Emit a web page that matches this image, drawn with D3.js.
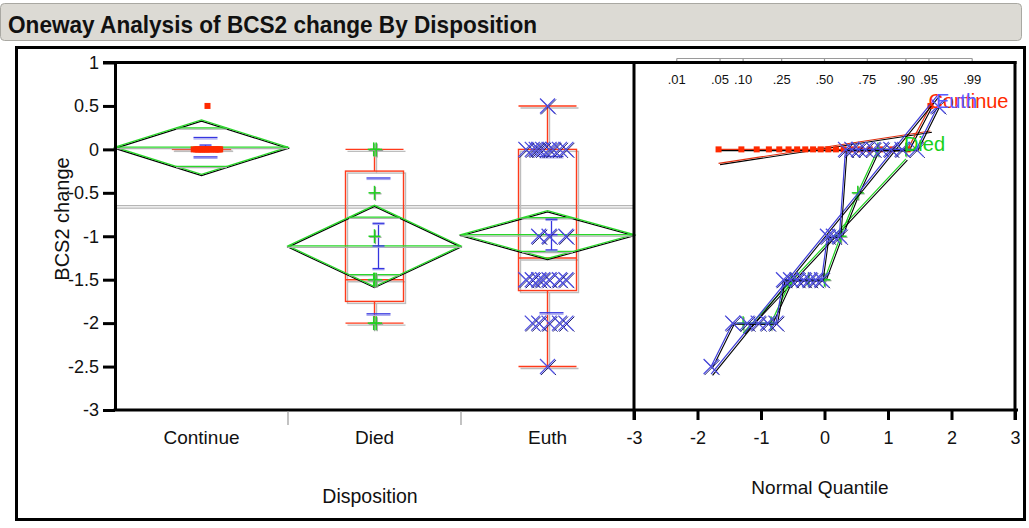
<!DOCTYPE html>
<html><head><meta charset="utf-8">
<script src="https://cdn.jsdelivr.net/npm/d3@7"></script>
<style>
body{margin:0;background:#fff}
svg{display:block}
text{font-family:"Liberation Sans",Arial,sans-serif;fill:#111}
</style>
</head><body>
<svg id="c" width="1029" height="528"></svg>
<script>
// ---------------- data ----------------
const categories = ["Continue", "Died", "Euth"];
const continueValues = [0.5, 0, 0, 0, 0, 0, 0, 0, 0, 0, 0, 0, 0, 0, 0, 0, 0, 0, 0, 0];
const diedValues = [-2, -2, -1.5, -1.5, -1.5, -1, -0.5, 0, 0];
const euthValues = [-2.5, -2, -2, -2, -2, -2, -1.5, -1.5, -1.5, -1.5, -1.5, -1.5, -1.5,
                    -1, -1, -1, 0, 0, 0, 0, 0, 0, 0, 0, 0, 0.5];
const yTicks = [1, 0.5, 0, -0.5, -1, -1.5, -2, -2.5, -3];
const yTickLabels = ["1", "0.5", "0", "-0.5", "-1", "-1.5", "-2", "-2.5", "-3"];
const quantileTicks = [-3, -2, -1, 0, 1, 2, 3];
const probTicks = [0.01, 0.05, 0.10, 0.25, 0.50, 0.75, 0.90, 0.95, 0.99];
const probTickLabels = [".01", ".05", ".10", ".25", ".50", ".75", ".90", ".95", ".99"];
const tCrit = 2.0066; // Student t, 0.975, df = 52

const colors = {Continue: "#ff2a00", Died: "#1fd21f", Euth: "#3c3cd8"};
const labelColors = {Continue: "#ff2a00", Died: "#18d018", Euth: "#5a5aff"};

// ---------------- helpers ----------------
function qnorm(p){
  const a=[-3.969683028665376e+01,2.209460984245205e+02,-2.759285104469687e+02,1.383577518672690e+02,-3.066479806614716e+01,2.506628277459239e+00];
  const b=[-5.447609879822406e+01,1.615858368580409e+02,-1.556989798598866e+02,6.680131188771972e+01,-1.328068155288572e+01];
  const c=[-7.784894002430293e-03,-3.223964580411365e-01,-2.400758277161838e+00,-2.549732539343734e+00,4.374664141464968e+00,2.938163982698783e+00];
  const d=[7.784695709041462e-03,3.224671290700398e-01,2.445134137142996e+00,3.754408661907416e+00];
  const pl=0.02425, ph=1-pl; let q, r;
  if (p < pl){ q=Math.sqrt(-2*Math.log(p)); return (((((c[0]*q+c[1])*q+c[2])*q+c[3])*q+c[4])*q+c[5])/((((d[0]*q+d[1])*q+d[2])*q+d[3])*q+1); }
  if (p <= ph){ q=p-0.5; r=q*q; return (((((a[0]*r+a[1])*r+a[2])*r+a[3])*r+a[4])*r+a[5])*q/(((((b[0]*r+b[1])*r+b[2])*r+b[3])*r+b[4])*r+1); }
  q=Math.sqrt(-2*Math.log(1-p)); return -(((((c[0]*q+c[1])*q+c[2])*q+c[3])*q+c[4])*q+c[5])/((((d[0]*q+d[1])*q+d[2])*q+d[3])*q+1);
}
function quant(s, p){ // JMP style p(n+1)
  const n = s.length, pos = p*(n+1), lo = Math.floor(pos), fr = pos - lo;
  if (lo < 1) return s[0];
  if (lo >= n) return s[n-1];
  return s[lo-1] + fr*(s[lo]-s[lo-1]);
}

const raw = {Continue: continueValues, Died: diedValues, Euth: euthValues};
const groups = categories.map(name => {
  const vals = raw[name];
  const s = vals.slice().sort((a,b)=>a-b);
  const n = s.length, mean = d3.mean(s), sd = d3.deviation(s);
  const q1 = quant(s,0.25), med = quant(s,0.5), q3 = quant(s,0.75), iqr = q3-q1;
  const hi = d3.max(s.filter(v => v <= q3 + 1.5*iqr));
  const lo = d3.min(s.filter(v => v >= q1 - 1.5*iqr));
  const ss = d3.sum(s, v => (v-mean)*(v-mean));
  return {name, vals, s, n, mean, sd, q1, med, q3, lo, hi, ss};
});
const N = d3.sum(groups, g => g.n);
const sp = Math.sqrt(d3.sum(groups, g => g.ss) / (N - groups.length));
const grandMean = d3.mean([].concat(...categories.map(c => raw[c])));

// ---------------- layout ----------------
const svg = d3.select("#c");
const y = d3.scaleLinear().domain([-3, 1]).range([410, 62.5]);
const xBand = d3.scaleBand().domain(categories).range([115, 634]);
const xq = d3.scaleLinear().domain([-3, 3]).range([634, 1015]);

// title bar
svg.append("rect").attr("x",0.5).attr("y",3.5).attr("width",1021).attr("height",37)
  .attr("rx",4).attr("fill","#dcdad4").attr("stroke","#a9a8a2");
svg.append("text").attr("x",8).attr("y",33).attr("font-size",24).attr("font-weight","bold")
  .attr("textLength",529).attr("lengthAdjust","spacingAndGlyphs")
  .text("Oneway Analysis of BCS2 change By Disposition");

// outer frame
svg.append("rect").attr("x",16.5).attr("y",47.5).attr("width",1008).attr("height",472)
  .attr("fill","none").attr("stroke","#000").attr("stroke-width",3);

const plot = svg.append("g");

// grand mean line
[1, 3.5].forEach(o => plot.append("line").attr("x1",115).attr("x2",634)
  .attr("y1",y(grandMean)+o).attr("y2",y(grandMean)+o).attr("stroke","#b5b5b5").attr("stroke-width",1.2));

// ---------------- left panel ----------------
function jitter(vals, amp){
  const counts = {}, idx = {};
  vals.forEach(v => counts[v] = (counts[v]||0)+1);
  return vals.map(v => {
    const j = idx[v] = (idx[v]===undefined ? 0 : idx[v]+1);
    if (counts[v] === 1) return 0;
    return amp * ((((j*0.618034)+0.3) % 1)*2 - 1);
  });
}
const jitAmp = {Continue: 14, Died: 2, Euth: 22};
const jitShift = {Continue: 6, Died: 0, Euth: 0};

function line(g, x1,y1,x2,y2, col, w){
  return g.append("line").attr("x1",x1).attr("y1",y1).attr("x2",x2).attr("y2",y2)
    .attr("stroke",col).attr("stroke-width",w||1.3);
}
function marker(g, name, x, yy){
  const c = colors[name];
  if (name === "Continue"){
    g.append("rect").attr("x",x-3).attr("y",yy-3).attr("width",6).attr("height",6).attr("fill",c);
  } else if (name === "Died"){
    line(g, x-6+1, yy+1, x+6+1, yy+1, "#9a9a9a", 1.2);
    line(g, x+1, yy-7+1, x+1, yy+7+1, "#9a9a9a", 1.2);
    line(g, x-6, yy, x+6, yy, c, 1.5);
    line(g, x, yy-7, x, yy+7, c, 1.5);
  } else {
    const a = 7.5;
    g.append("path").attr("d",`M${x-a+1},${yy-a+1}L${x+a+1},${yy+a+1}M${x-a+1},${yy+a+1}L${x+a+1},${yy-a+1}`)
      .attr("stroke","#20206a").attr("stroke-width",1).attr("fill","none");
    g.append("path").attr("d",`M${x-a},${yy-a}L${x+a},${yy+a}M${x-a},${yy+a}L${x+a},${yy-a}`)
      .attr("stroke","#5050e0").attr("stroke-width",1.3).attr("fill","none");
  }
}

groups.forEach(g => {
  const x0 = xBand(g.name), x1 = x0 + xBand.bandwidth(), cx = (x0+x1)/2;
  const bw = 29, red = "#ff3a1a";
  // box plot: shadow then red
  const bx = plot.append("g");
  [[2, "#bdbdbd"], [0, red]].forEach(([o, col]) => {
    bx.append("rect").attr("x",cx-bw+o).attr("y",y(g.q3)+o).attr("width",2*bw)
      .attr("height",Math.max(0.01, y(g.q1)-y(g.q3))).attr("fill","none").attr("stroke",col).attr("stroke-width",1.4);
    line(bx, cx+o, y(g.hi)+o, cx+o, y(g.q3)+o, col, 1.4);
    line(bx, cx+o, y(g.q1)+o, cx+o, y(g.lo)+o, col, 1.4);
    line(bx, cx-bw+o, y(g.hi)+o, cx+bw+o, y(g.hi)+o, col, 1.4);
    line(bx, cx-bw+o, y(g.lo)+o, cx+bw+o, y(g.lo)+o, col, 1.4);
    line(bx, cx-bw+o, y(g.med)+o, cx+bw+o, y(g.med)+o, col, 1.4);
  });
  // mean diamond
  const half = tCrit * sp / Math.sqrt(g.n);
  const dg = plot.append("g");
  const pts = (o) => `M${x0},${y(g.mean)+o}L${cx},${y(g.mean+half)+o}L${x1},${y(g.mean)+o}L${cx},${y(g.mean-half)+o}Z`;
  dg.append("path").attr("d",pts(1.2)).attr("fill","none").attr("stroke","#000").attr("stroke-width",1.2);
  dg.append("path").attr("d",pts(0)).attr("fill","none").attr("stroke","#2ad82a").attr("stroke-width",1.3);
  line(dg, x0, y(g.mean)+1.5, x1, y(g.mean)+1.5, "#b0b0b0", 1.2);
  line(dg, x0, y(g.mean), x1, y(g.mean), "#2ad82a", 1.3);
  const om = half*Math.SQRT2/2, frac = Math.SQRT2/2, hw = (x1-x0)/2*(1-frac);
  [g.mean+om, g.mean-om].forEach(v => {
    line(dg, cx-hw, y(v)+1.2, cx+hw, y(v)+1.2, "#b0b0b0", 1.1);
    line(dg, cx-hw, y(v), cx+hw, y(v), "#2ad82a", 1.3);
  });
  // blue: mean ± sd lines, mean ± se error bar
  const bc = cx + 4, se = g.sd/Math.sqrt(g.n);
  const bg = plot.append("g");
  [g.mean+g.sd, g.mean-g.sd].forEach(v => {
    line(bg, bc-12, y(v)+1.5, bc+12, y(v)+1.5, "#a8a8ee", 1.2);
    line(bg, bc-12, y(v), bc+12, y(v), "#3535e0", 1.3);
  });
  line(bg, bc, y(g.mean+se), bc, y(g.mean-se), "#3535e0", 1.3);
  [g.mean+se, g.mean, g.mean-se].forEach(v => {
    line(bg, bc-6, y(v)+1.2, bc+6, y(v)+1.2, "#a8a8ee", 1.2);
    line(bg, bc-6, y(v), bc+6, y(v), "#3535e0", 1.3);
  });
  // points
  const jg = plot.append("g");
  const jit = jitter(g.vals, jitAmp[g.name]);
  g.vals.forEach((v, i) => marker(jg, g.name, cx + jitShift[g.name] + jit[i], y(v)));
});

// ---------------- right panel: normal quantile plot ----------------
const qp = svg.append("g");
// top probability axis
const zTop = probTicks.map(qnorm);
line(qp, xq(zTop[0]), 58.5, xq(zTop[zTop.length-1]), 58.5, "#9a9a9a", 1.2);
probTicks.forEach((p, i) => {
  line(qp, xq(zTop[i]), 58.5, xq(zTop[i]), 63, "#9a9a9a", 1.2);
  qp.append("text").attr("x",xq(zTop[i])).attr("y",84).attr("text-anchor","middle")
    .attr("font-size",13).text(probTickLabels[i]);
});

const qq = groups.map(g => {
  const z = g.s.map((v,i) => qnorm((i+1)/(g.n+1)));
  return {...g, z};
});
const lineGen = d3.line().x(d => xq(d[0])).y(d => y(d[1]));
qq.forEach(g => {
  const fit = [[g.z[0], g.mean + g.sd*g.z[0]], [g.z[g.n-1], g.mean + g.sd*g.z[g.n-1]]];
  const pts = g.s.map((v,i) => [g.z[i], v]);
  const c = colors[g.name];
  [fit, pts].forEach(arr => {
    qp.append("path").attr("d", lineGen(arr)).attr("transform","translate(1.5,1.2)")
      .attr("fill","none").attr("stroke","#000").attr("stroke-width",1.1);
    qp.append("path").attr("d", lineGen(arr)).attr("fill","none")
      .attr("stroke", g.name === "Continue" ? "#e03010" : c).attr("stroke-width",1.2);
  });
  pts.forEach(p => marker(qp, g.name, xq(p[0]), y(p[1])));
});
qq.forEach(g => {
  const last = g.n-1;
  qp.append("text").attr("x", xq(g.z[last])-2).attr("y", y(g.s[last])+2)
    .attr("font-size",20).style("fill",labelColors[g.name]).text(g.name);
});

// ---------------- axes and frame ----------------
const yAxis = svg.append("g").attr("transform","translate(115,0)")
  .call(d3.axisLeft(y).tickValues(yTicks).tickFormat((d,i)=>yTickLabels[i]).tickSize(12).tickSizeOuter(0).tickPadding(4));
yAxis.select(".domain").attr("stroke-width",3);
yAxis.selectAll(".tick line").attr("stroke-width",3);
yAxis.selectAll("text").attr("font-size",18).attr("font-family","Liberation Sans, Arial, sans-serif").style("fill","#111");

// frame lines
line(svg, 103, 62.5, 1016.5, 62.5, "#000", 3);
line(svg, 113.5, 410, 1018, 410, "#000", 3);
line(svg, 634, 61, 634, 420, "#000", 3);
line(svg, 1015, 61, 1015, 420, "#000", 3);

const catAxis = svg.append("g").attr("transform","translate(0,410)")
  .call(d3.axisBottom(xBand).tickSize(0).tickPadding(21));
catAxis.select(".domain").remove();
catAxis.selectAll("text").attr("font-size",19).attr("font-family","Liberation Sans, Arial, sans-serif").style("fill","#111");
categories.slice(1).forEach(c => line(svg, xBand(c), 411, xBand(c), 425, "#9a9a9a", 1.2));

const qAxis = svg.append("g").attr("transform","translate(0,410)")
  .call(d3.axisBottom(xq).tickValues(quantileTicks).tickFormat(d => String(d)).tickSize(10).tickSizeOuter(0).tickPadding(11));
qAxis.select(".domain").remove();
qAxis.selectAll(".tick line").attr("stroke-width",3);
qAxis.selectAll("text").attr("font-size",18).attr("font-family","Liberation Sans, Arial, sans-serif").style("fill","#111");

svg.append("text").attr("x",370).attr("y",503).attr("text-anchor","middle").attr("font-size",19.5).text("Disposition");
svg.append("text").attr("x",820).attr("y",494).attr("text-anchor","middle").attr("font-size",19).text("Normal Quantile");
svg.append("text").attr("transform","translate(69,219) rotate(-90)").attr("text-anchor","middle")
  .attr("font-size",20).text("BCS2 change");
</script>
</body></html>
